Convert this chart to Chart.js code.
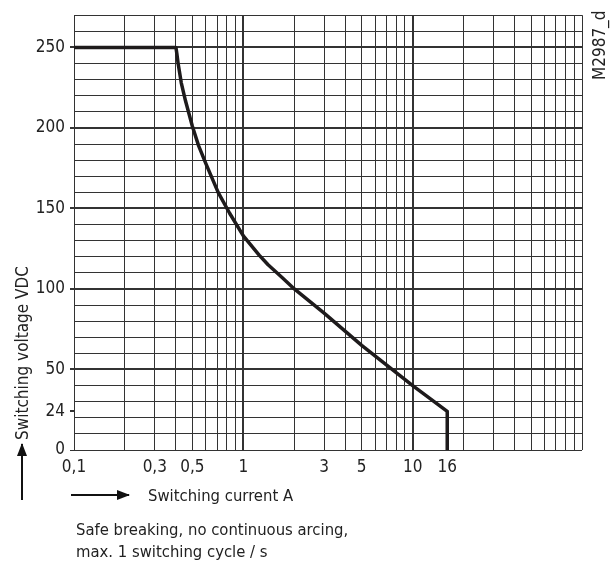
<!DOCTYPE html>
<html>
<head>
<meta charset="utf-8">
<script src="https://cdn.jsdelivr.net/npm/chart.js@4.4.0/dist/chart.umd.min.js"></script>
<style>
  html, body { margin: 0; padding: 0; background: #fff; }
  body {
    width: 614px; height: 562px; position: relative; overflow: hidden;
    font-family: "DejaVu Sans", sans-serif;
    font-stretch: condensed;
    color: #222;
  }
  #chart-box { position: absolute; left: 0; top: 0; width: 614px; height: 562px; }
  .txt { position: absolute; font-size: 16.5px; line-height: 19px; white-space: nowrap; }
  .rot { transform-origin: 0 0; transform: rotate(-90deg); }
  .arrow-up { position: absolute; left: 21px; top: 444px; width: 2px; height: 56px; background: #111; }
  .arrow-up::before {
    content: ''; position: absolute; left: -4px; top: -1px;
    border-left: 5px solid transparent; border-right: 5px solid transparent;
    border-bottom: 13px solid #111;
  }
  .arrow-right { position: absolute; left: 71px; top: 494px; width: 58px; height: 2px; background: #111; }
  .arrow-right::after {
    content: ''; position: absolute; right: -1px; top: -4px;
    border-top: 5px solid transparent; border-bottom: 5px solid transparent;
    border-left: 13px solid #111;
  }
</style>
</head>
<body>
<div id="chart-box"><canvas id="sol-chart" width="614" height="562"></canvas></div>
<div class="txt rot" style="left:13px; top:440px; font-size:17px;">Switching voltage VDC</div>
<div class="arrow-up"></div>
<div class="arrow-right"></div>
<div class="txt" style="left:148px; top:486px;">Switching current A</div>
<div class="txt" style="left:76px; top:520px;">Safe breaking, no continuous arcing,</div>
<div class="txt" style="left:76px; top:542px;">max. 1 switching cycle / s</div>
<div class="txt rot" style="left:590px; top:80px; font-size:17px;">M2987_d</div>
<script>
// Limit curve: switching current (A) vs switching voltage (VDC)
const currentA = [0.1, 0.4, 0.405, 0.412, 0.43, 0.455, 0.5, 0.544, 0.6, 0.71, 0.83, 1.0,
  1.24, 1.4, 1.7, 2, 3, 5, 10, 16, 16];
const voltageV = [250, 250, 246, 240, 228, 217, 201, 189, 178, 160, 147, 133,
  121, 115, 107, 100, 85, 65, 40, 24, 0];

// Axis ticks
const xTickValues = [0.1, 0.3, 0.5, 1, 3, 5, 10, 16];
const xTickLabels = ['0,1', '0,3', '0,5', '1', '3', '5', '10', '16'];
const yTickValues = [0, 24, 50, 100, 150, 200, 250];
const yTickLabels = ['0', '24', '50', '100', '150', '200', '250'];
const xDecades = [0.1, 1, 10];
const xMantissas = [1, 2, 3, 4, 5, 6, 7, 8, 9];
const yGridStep = 10;
const yMax = 270;

const fontFamily = '"DejaVu Sans", sans-serif';
const gridColor = '#333';

// Grid values for the log x axis (every 1..9 per decade) plus the 16 A mark
const xGridValues = [];
xDecades.forEach((d) => {
  xMantissas.forEach((m) => xGridValues.push(+(m * d).toPrecision(3)));
});
xGridValues.push(100);
xGridValues.push(16);
xGridValues.sort((a, b) => a - b);

const yGridValues = [];
for (let v = 0; v <= yMax; v += yGridStep) yGridValues.push(v);
yGridValues.push(24);
yGridValues.sort((a, b) => a - b);

const points = currentA.map((x, i) => ({ x, y: voltageV[i] }));

const ctx = document.getElementById('sol-chart');
// eslint-disable-next-line no-new
new Chart(ctx, {
  type: 'line',
  data: {
    datasets: [
      {
        data: points,
        borderColor: '#1e1b1c',
        borderWidth: 3.5,
        borderJoinStyle: 'round',
        pointRadius: 0,
        fill: false,
        tension: 0,
      },
    ],
  },
  options: {
    responsive: false,
    animation: false,
    layout: { padding: { top: 11, right: 32, bottom: 82, left: 0 } },
    plugins: {
      legend: { display: false },
      tooltip: { enabled: false },
      title: { display: false },
    },
    scales: {
      x: {
        type: 'logarithmic',
        min: 0.1,
        max: 100,
        border: { display: false },
        afterBuildTicks: (scale) => {
          scale.ticks = xGridValues.map((v) => ({ value: v }));
        },
        afterFit: (scale) => { scale.height = 30; },
        grid: {
          drawTicks: false,
          color: (c) => (c.tick && c.tick.value === 16 ? 'rgba(0,0,0,0)' : gridColor),
          lineWidth: (c) => {
            const v = c.tick ? c.tick.value : 0;
            return (v === 1 || v === 10) ? 2 : 1;
          },
        },
        ticks: {
          autoSkip: false,
          maxRotation: 0,
          padding: 7,
          color: '#222',
          font: { family: fontFamily, size: 17, weight: 'condensed' },
          callback: (value) => {
            const i = xTickValues.indexOf(+(+value).toPrecision(3));
            return i >= 0 ? xTickLabels[i] : '';
          },
        },
      },
      y: {
        type: 'linear',
        min: 0,
        max: yMax,
        border: { display: false },
        afterBuildTicks: (scale) => {
          scale.ticks = yGridValues.map((v) => ({ value: v }));
        },
        afterFit: (scale) => { scale.width = 74; },
        grid: {
          tickLength: 4,
          color: (c) => (c.tick && c.tick.value === 24 ? 'rgba(0,0,0,0)' : gridColor),
          tickColor: (c) => (c.tick && yTickValues.includes(c.tick.value) ? gridColor : 'rgba(0,0,0,0)'),
          lineWidth: (c) => {
            const v = c.tick ? c.tick.value : -1;
            return (v > 0 && yTickValues.includes(v)) ? 2 : 1;
          },
        },
        ticks: {
          autoSkip: false,
          padding: 5,
          color: '#222',
          font: { family: fontFamily, size: 17, weight: 'condensed' },
          callback: (value) => {
            const i = yTickValues.indexOf(value);
            return i >= 0 ? yTickLabels[i] : '';
          },
        },
      },
    },
  },
});
</script>
</body>
</html>
